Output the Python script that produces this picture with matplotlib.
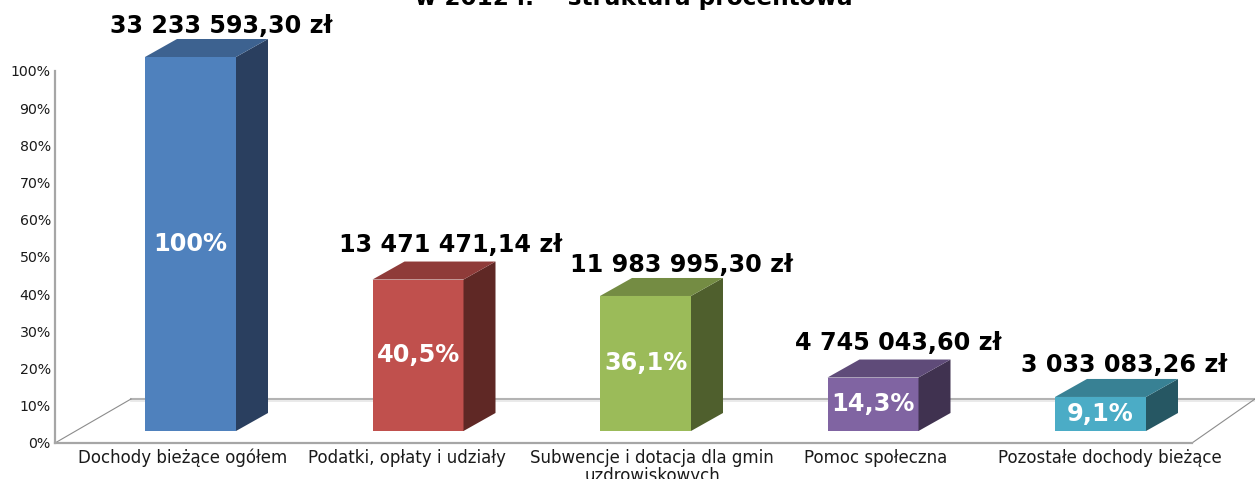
import matplotlib
matplotlib.use("Agg")
import matplotlib.pyplot as plt
from matplotlib.patches import Polygon

categories = ["Dochody bieżące ogółem", "Podatki, opłaty i udziały",
              "Subwencje i dotacja dla gmin\nuzdrowiskowych", "Pomoc społeczna",
              "Pozostałe dochody bieżące"]
percent = [100, 40.5, 36.1, 14.3, 9.1]
percent_labels = ["100%", "40,5%", "36,1%", "14,3%", "9,1%"]
amount_labels = ["33 233 593,30 zł", "13 471 471,14 zł", "11 983 995,30 zł",
                 "4 745 043,60 zł", "3 033 083,26 zł"]
y_ticks = [0, 10, 20, 30, 40, 50, 60, 70, 80, 90, 100]
title = "w 2012 r.  - struktura procentowa"

front_colors = ["#4F81BD", "#C0504D", "#9BBB59", "#8064A2", "#4BACC6"]
side_colors = ["#2A3F5F", "#5F2825", "#4F5F2D", "#403250", "#265763"]
top_colors = ["#3D6290", "#8F3B39", "#748C43", "#5F4B79", "#388194"]

W, H = 1255, 479
fig = plt.figure(figsize=(W / 100, H / 100), dpi=100)
fig.patch.set_facecolor("white")

# os: 0% na 443 px, 100% na 71 px, slupki co 227.5 px
left, right, top, bottom = 55, 1192, 71, 443
ax = fig.add_axes([left / W, 1 - bottom / H, (right - left) / W, (bottom - top) / H])
step = 227.5
ax.set_xlim((left - 190.5) / step, (right - 190.5) / step)
ax.set_ylim(0, 100)
ax.patch.set_alpha(0)
for s in ["top", "right"]:
    ax.spines[s].set_visible(False)
for s in ["left", "bottom"]:
    ax.spines[s].set_color("#A6A6A6")
    ax.spines[s].set_linewidth(1.6)

ax.set_yticks(y_ticks)
ax.set_yticklabels([str(t) + "%" for t in y_ticks], fontsize=10.2, color="#1a1a1a")
ax.tick_params(axis="y", length=0, pad=3)
ax.set_xticks([])

px_x = 1 / step
px_y = 100 / (bottom - top)
x0, x1 = ax.get_xlim()

# podloga wykresu
back = 44 * px_y
ax.plot([x0, x0 + 76 * px_x], [0, back], color="#8C8C8C", lw=0.8, clip_on=False)
ax.plot([x1, x1 + 63 * px_x], [0, back], color="#8C8C8C", lw=0.8, clip_on=False)
ax.plot([x0 + 76 * px_x, x1 + 63 * px_x], [back, back], color="#B3B3B3", lw=1.5, clip_on=False, zorder=1)
ax.plot([x0 + 76 * px_x, x1 + 63 * px_x], [back - 1.5 * px_y] * 2, color="#E6E6E6", lw=1.2, clip_on=False, zorder=1)

# slupki 3d
base = 12 * px_y
scale = 374 / 372
half = 45.5 * px_x
dx = 32 * px_x
dy = 18 * px_y
label_shift = [(31, 13), (33, 17), (36, 13), (25, 17), (24, 14)]
cat_shift = [-7.5, -11, 6.5, 2.5, 9]
for i, v in enumerate(percent):
    h = base + v * scale
    ax.add_patch(Polygon([(i - half, base), (i + half, base), (i + half, h), (i - half, h)],
                         fc=front_colors[i], ec="none", zorder=3, clip_on=False))
    ax.add_patch(Polygon([(i + half, base), (i + half + dx, base + dy), (i + half + dx, h + dy), (i + half, h)],
                         fc=side_colors[i], ec="none", zorder=3, clip_on=False))
    ax.add_patch(Polygon([(i - half, h), (i + half, h), (i + half + dx, h + dy), (i - half + dx, h + dy)],
                         fc=top_colors[i], ec="none", zorder=3, clip_on=False))
    ax.text(i, base + v * scale / 2, percent_labels[i], color="white", fontsize=17.3, fontweight="bold",
            ha="center", va="center", zorder=4)
    ax.annotate(amount_labels[i], (i, h + dy), xytext=(label_shift[i][0] * 0.72, label_shift[i][1] * 0.72),
                textcoords="offset points", ha="center", va="center", fontsize=17.2,
                fontweight="bold", color="black", annotation_clip=False, zorder=4)
    ax.annotate(categories[i], (i, 0), xytext=(cat_shift[i] * 0.72, -4), textcoords="offset points",
                ha="center", va="top", fontsize=12, color="#1a1a1a", annotation_clip=False,
                linespacing=1.0)

fig.text(634 / W, 1 + 2 / H, title, ha="center", va="center", fontsize=16.7, fontweight="bold", color="black")

fig.savefig("out.png", dpi=100)
